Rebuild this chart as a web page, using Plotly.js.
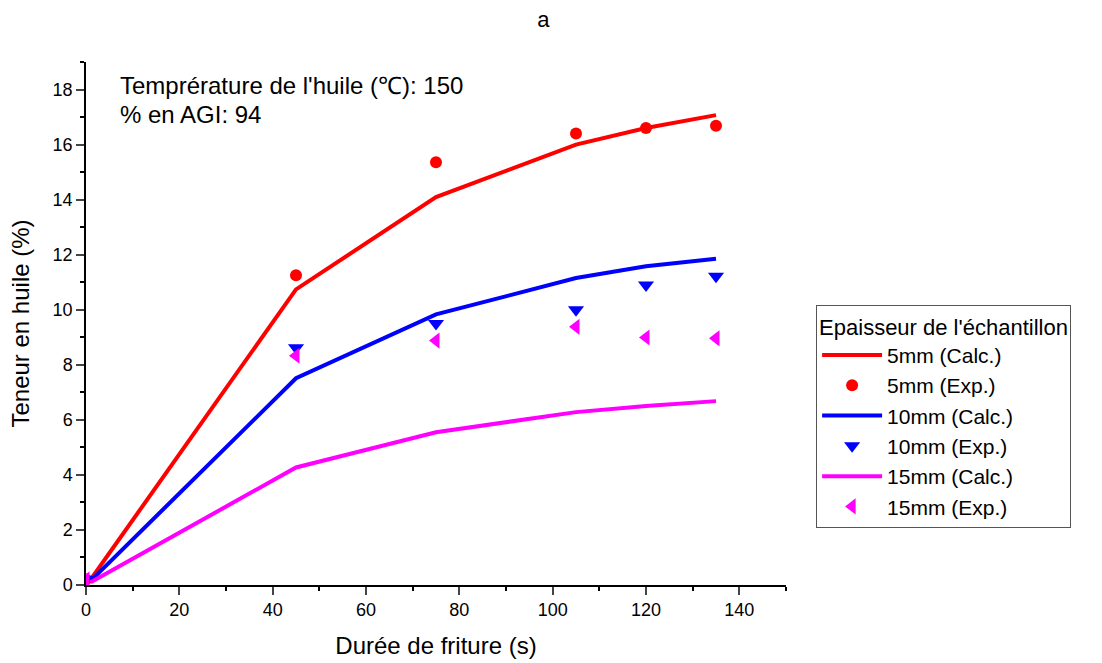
<!DOCTYPE html>
<html><head><meta charset="utf-8">
<script src="https://cdn.plot.ly/plotly-3.0.1.min.js"></script>
<style>body{margin:0;background:#fff}#c{width:1102px;height:663px}</style>
</head><body><div id="c"></div>
<script>
const xCalc = [1, 45, 75, 105, 120, 135];
const xExp = [0, 45, 75, 105, 120, 135];
const calc5 = [0.2, 10.74, 14.09, 16.0, 16.6, 17.07];
const exp5 = [0.2, 11.25, 15.36, 16.4, 16.6, 16.68];
const calc10 = [0.15, 7.51, 9.83, 11.15, 11.58, 11.85];
const exp10 = [0.2, 8.62, 9.5, 10.0, 10.9, 11.22];
const calc15 = [0.1, 4.27, 5.55, 6.28, 6.5, 6.68];
const exp15 = [0.2, 8.33, 8.88, 9.38, 8.99, 8.96];
const names = ['5mm (Calc.)','5mm (Exp.)','10mm (Calc.)','10mm (Exp.)','15mm (Calc.)','15mm (Exp.)'];

const line = (y, name, color) => ({x: xCalc, y, name, type:'scatter', mode:'lines', line:{color, width:4}});
const pts = (y, name, color, symbol, size) => ({x: xExp, y, name, type:'scatter', mode:'markers', marker:{color, size, symbol}});
const data = [
  line(calc5, names[0], '#ff0000'),
  pts(exp5, names[1], '#ff0000', 'circle', 12),
  line(calc10, names[2], '#0000ff'),
  pts(exp10, names[3], '#0000ff', 'triangle-down', 14),
  line(calc15, names[4], '#ff00ff'),
  pts(exp15, names[5], '#ff00ff', 'triangle-left', 14)
];
const layout = {
  width:1102, height:663,
  margin:{l:86, r:316, t:62, b:78},
  paper_bgcolor:'#fff', plot_bgcolor:'#fff',
  font:{family:'Liberation Sans, Arial, sans-serif', color:'#000', size:18},
  title:{text:'a', x:0.493, xanchor:'center', y:0.982, yanchor:'top', font:{size:22}},
  showlegend:true,
  legend:{x:1.043, xanchor:'left', y:0.535, yanchor:'top', bordercolor:'#555', borderwidth:1,
    font:{size:21}, title:{text:'Epaisseur de l\'échantillon', font:{size:22}}, tracegroupgap:0, itemwidth:60},
  xaxis:{range:[0,150], showline:true, linecolor:'#000', linewidth:1.5, ticks:'outside', ticklen:8, tickwidth:1.5,
    dtick:20, tick0:0, showgrid:false, zeroline:false, tickfont:{size:18},
    minor:{ticks:'outside', ticklen:4, dtick:10, tickcolor:'#000', showgrid:false},
    title:{text:'Durée de friture (s)', font:{size:24}, standoff:18}},
  yaxis:{range:[0,19], showline:true, linecolor:'#000', linewidth:1.5, ticks:'outside', ticklen:8, tickwidth:1.5,
    dtick:2, tick0:0, showgrid:false, zeroline:false, tickfont:{size:18},
    minor:{ticks:'outside', ticklen:4, dtick:1, tickcolor:'#000', showgrid:false},
    title:{text:'Teneur en huile (%)', font:{size:24}, standoff:16}},
  annotations:[
    {text:"Temprérature de l'huile (℃): 150", xref:'paper', yref:'paper', x:0.045, y:0.956, xanchor:'left', yanchor:'middle', showarrow:false, font:{size:24}},
    {text:'% en AGI: 94', xref:'paper', yref:'paper', x:0.045, y:0.899, xanchor:'left', yanchor:'middle', showarrow:false, font:{size:24}}
  ]
};
Plotly.newPlot('c', data, layout, {displayModeBar:false});
</script></body></html>
